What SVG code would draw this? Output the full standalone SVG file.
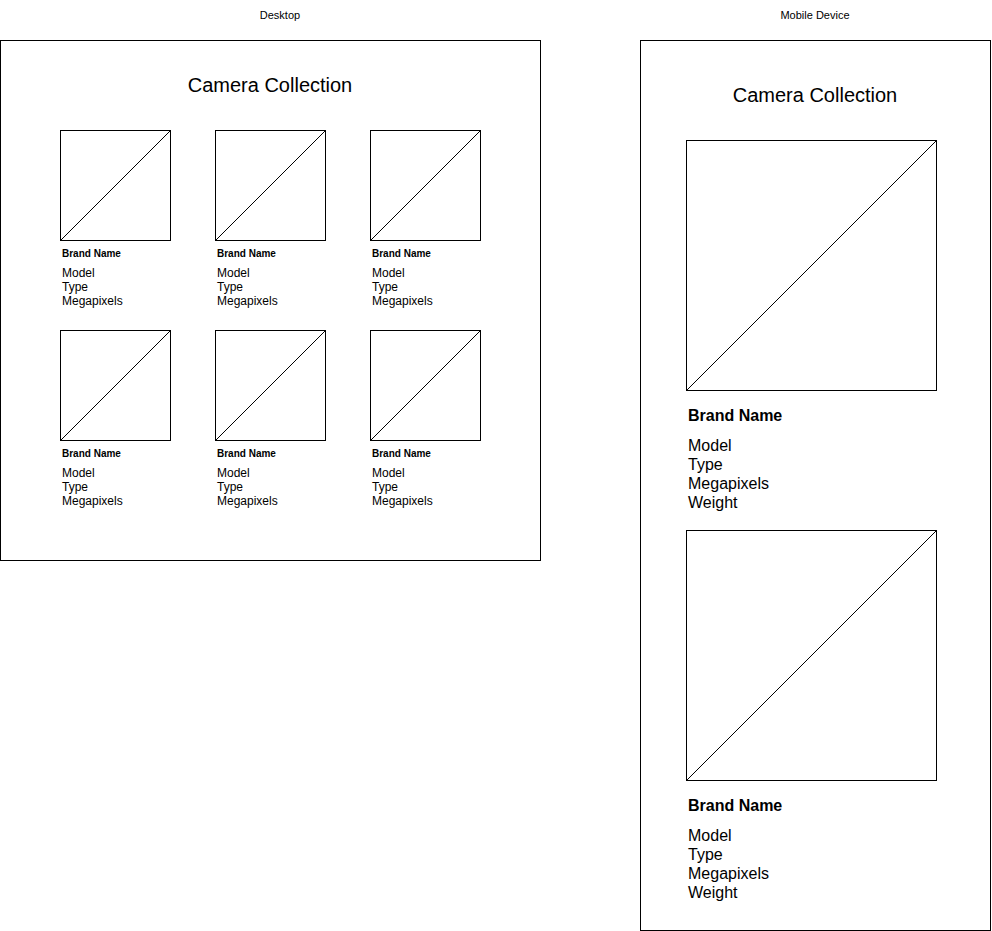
<svg xmlns="http://www.w3.org/2000/svg" width="992" height="931" viewBox="0 0 992 931">
<style>
text{font-family:"Liberation Sans",Arial,Helvetica,sans-serif;fill:#000}
.frame,.img{fill:#fff;stroke:#000;stroke-width:1}
.diag{stroke:#000;stroke-width:1;fill:none}
.lbl{font-size:11px}
.title{font-size:20px;text-anchor:middle}
.bs{font-size:10px;font-weight:bold}
.ts{font-size:12px}
.bl{font-size:16px;font-weight:bold}
.tl{font-size:16px}
</style>
<rect width="992" height="931" fill="#fff"/>
<g id="desktop">
<text class="lbl" x="280" y="19" text-anchor="middle">Desktop</text>
<rect class="frame" x="0.5" y="40.5" width="540" height="520"/>
<text class="title" x="270" y="92">Camera Collection</text>
</g>
<g id="mobile">
<text class="lbl" x="815" y="19" text-anchor="middle">Mobile Device</text>
<rect class="frame" x="640.5" y="40.5" width="350" height="890"/>
<text class="title" x="815" y="102">Camera Collection</text>
</g>
<g id="d1"><rect class="img" x="60.5" y="130.5" width="110" height="110"/><line class="diag" x1="60.5" y1="240.5" x2="170.5" y2="130.5"/>
<text class="bs" x="62" y="257">Brand Name</text><text class="ts" x="62" y="277">Model</text><text class="ts" x="62" y="291">Type</text><text class="ts" x="62" y="305">Megapixels</text></g>
<g id="d2"><rect class="img" x="215.5" y="130.5" width="110" height="110"/><line class="diag" x1="215.5" y1="240.5" x2="325.5" y2="130.5"/>
<text class="bs" x="217" y="257">Brand Name</text><text class="ts" x="217" y="277">Model</text><text class="ts" x="217" y="291">Type</text><text class="ts" x="217" y="305">Megapixels</text></g>
<g id="d3"><rect class="img" x="370.5" y="130.5" width="110" height="110"/><line class="diag" x1="370.5" y1="240.5" x2="480.5" y2="130.5"/>
<text class="bs" x="372" y="257">Brand Name</text><text class="ts" x="372" y="277">Model</text><text class="ts" x="372" y="291">Type</text><text class="ts" x="372" y="305">Megapixels</text></g>
<g id="d4"><rect class="img" x="60.5" y="330.5" width="110" height="110"/><line class="diag" x1="60.5" y1="440.5" x2="170.5" y2="330.5"/>
<text class="bs" x="62" y="457">Brand Name</text><text class="ts" x="62" y="477">Model</text><text class="ts" x="62" y="491">Type</text><text class="ts" x="62" y="505">Megapixels</text></g>
<g id="d5"><rect class="img" x="215.5" y="330.5" width="110" height="110"/><line class="diag" x1="215.5" y1="440.5" x2="325.5" y2="330.5"/>
<text class="bs" x="217" y="457">Brand Name</text><text class="ts" x="217" y="477">Model</text><text class="ts" x="217" y="491">Type</text><text class="ts" x="217" y="505">Megapixels</text></g>
<g id="d6"><rect class="img" x="370.5" y="330.5" width="110" height="110"/><line class="diag" x1="370.5" y1="440.5" x2="480.5" y2="330.5"/>
<text class="bs" x="372" y="457">Brand Name</text><text class="ts" x="372" y="477">Model</text><text class="ts" x="372" y="491">Type</text><text class="ts" x="372" y="505">Megapixels</text></g>
<g id="m1"><rect class="img" x="686.5" y="140.5" width="250" height="250"/><line class="diag" x1="686.5" y1="390.5" x2="936.5" y2="140.5"/>
<text class="bl" x="688" y="421">Brand Name</text><text class="tl" x="688" y="451">Model</text><text class="tl" x="688" y="470">Type</text><text class="tl" x="688" y="489">Megapixels</text><text class="tl" x="688" y="508">Weight</text></g>
<g id="m2"><rect class="img" x="686.5" y="530.5" width="250" height="250"/><line class="diag" x1="686.5" y1="780.5" x2="936.5" y2="530.5"/>
<text class="bl" x="688" y="811">Brand Name</text><text class="tl" x="688" y="841">Model</text><text class="tl" x="688" y="860">Type</text><text class="tl" x="688" y="879">Megapixels</text><text class="tl" x="688" y="898">Weight</text></g>
<g id="connectors"></g>
</svg>
